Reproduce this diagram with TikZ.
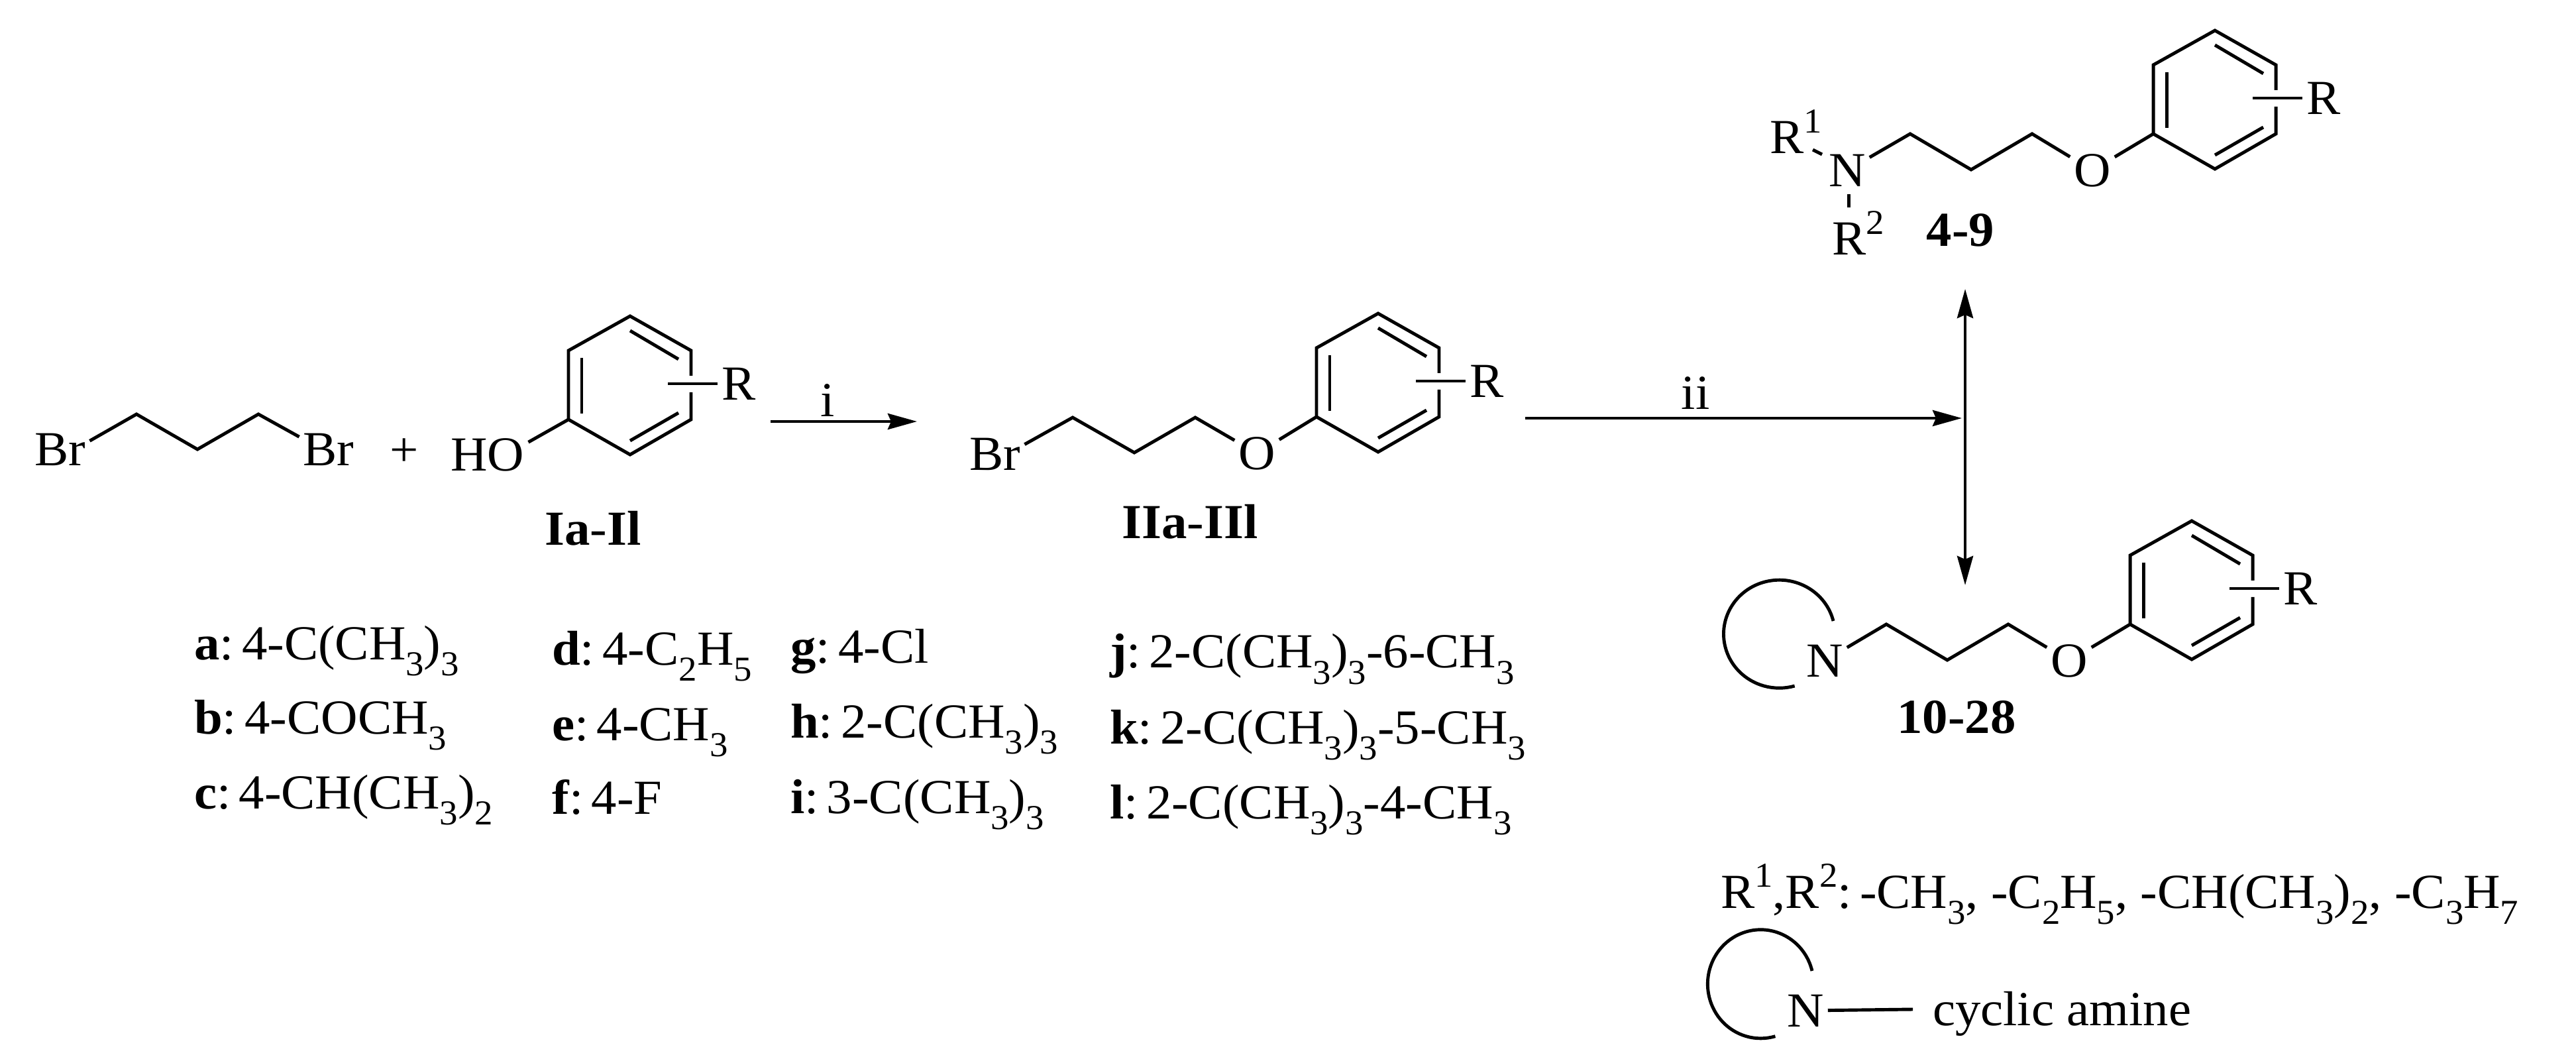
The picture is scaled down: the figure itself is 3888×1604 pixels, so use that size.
\documentclass[tikz,border=0pt]{standalone}
\usepackage{fontspec}
\setmainfont[FakeStretch=1.04]{Liberation Serif}
\usetikzlibrary{arrows.meta}
\newcommand{\lw}[1]{\raisebox{-.33em}{\fontsize{15}{15}\selectfont #1}}
\newcommand{\hi}[1]{\raisebox{.42em}{\fontsize{15}{15}\selectfont #1}}
\tikzset{
	bond/.style={line width=1.4pt},
	rxn/.style={line width=1.3pt,>={Stealth[length=.44cm,width=.24cm,inset=.05cm]}},
	atom/.style={inner sep=.06cm,outer sep=0,font=\fontsize{21}{25}\selectfont},
	sublbl/.style={anchor=base west,inner sep=0,outer sep=0,font=\fontsize{21}{25}\selectfont},
	ring/.pic={
		\coordinate (-ipso) at (-93,156);
		\node[atom] (-r) at (164,102) {R};
		\draw[bond,line join=miter] (92,90) -- (92,52) -- (0,0) -- (-93,52) -- (-93,156) -- (0,209) -- (92,156) -- (92,115);
		\draw[bond] (57,102) -- (-r.west);
		\draw[bond] (-73,63) -- (-73,147);
		\draw[bond] (0,22) -- (73,65);
		\draw[bond] (0,188) -- (73,146);
	}
}
\begin{document}
\begin{tikzpicture}[x=.01cm,y=-.01cm]
	\useasboundingbox (0,0) rectangle (3888,1604);

	% starting materials
	\begin{scope}
		\node[atom] (brA) at (91,678) {Br};
		\node[atom] (brB) at (496,678) {Br};
		\coordinate (aA) at (206,625);
		\coordinate (aB) at (298,678);
		\coordinate (aC) at (390,625);
		\draw[bond] (brA.16) -- (aA) -- (aB) -- (aC) -- (brB.157);
		\node[atom] (plus) at (610,683) {+};
		\pic (ringA) at (951,477) {ring};
		\node[atom] (hoA) at (736,686) {HO};
		\draw[bond] (hoA.17) -- (ringA-ipso);
		\node[atom] (lblA) at (895,797) {\textbf{Ia}-\textbf{Il}};
	\end{scope}

	% bromide
	\begin{scope}
		\node[atom] (brC) at (1502,685) {Br};
		\node[atom] (oB) at (1897,684) {O};
		\coordinate (bA) at (1619,630);
		\coordinate (bB) at (1712,683);
		\coordinate (bC) at (1804,630);
		\draw[bond] (brC.18) -- (bA) -- (bB) -- (bC) -- (oB);
		\pic (ringB) at (2080,473) {ring};
		\draw[bond] (oB) -- (ringB-ipso);
		\node[atom] (lblB) at (1796,787) {\textbf{IIa}-\textbf{IIl}};
	\end{scope}

	% arrows
	\begin{scope}
		\coordinate (iS) at (1163,636);
		\coordinate (iE) at (1384,636);
		\coordinate (iiS) at (2302,631);
		\coordinate (iiE) at (2961,631);
		\coordinate (upE) at (2966,436);
		\coordinate (dnE) at (2966,883);
		\draw[rxn,->] (iS) -- (iE) node[atom,pos=.39,above,inner sep=.07cm] (lblI) {i};
		\draw[rxn,->] (iiS) -- (iiE) node[atom,pos=.39,above,inner sep=.13cm] (lblII) {ii};
		\draw[rxn,<->] (upE) -- (dnE);
	\end{scope}

	% acyclic amine
	\begin{scope}
		\node[atom] (nC) at (2788,257) {N};
		\node[atom] (oC) at (3158,257) {O};
		\node[atom] (rOne) at (2711,199) {R\hi{1}};
		\node[atom] (rTwo) at (2805,352) {R\hi{2}};
		\coordinate (rOneS) at (2736,226);
		\coordinate (rOneE) at (2750,233);
		\coordinate (rTwoS) at (2790,293);
		\coordinate (rTwoE) at (2790,313);
		\coordinate (cA) at (2883,202);
		\coordinate (cB) at (2975,256);
		\coordinate (cC) at (3067,202);
		\draw[bond] (rOneS) -- (rOneE);
		\draw[bond] (rTwoS) -- (rTwoE);
		\draw[bond] (nC) -- (cA) -- (cB) -- (cC) -- (oC);
		\pic (ringC) at (3343,46) {ring};
		\draw[bond] (oC) -- (ringC-ipso);
		\node[atom] (lblC) at (2959,347) {\textbf{4-9}};
	\end{scope}

	% cyclic amine
	\begin{scope}
		\node[atom] (nD) at (2754,997) {N};
		\node[atom] (oD) at (3123,997) {O};
		\coordinate (dA) at (2847,942);
		\coordinate (dB) at (2939,996);
		\coordinate (dC) at (3031,942);
		\draw[bond] (nD) -- (dA) -- (dB) -- (dC) -- (oD);
		\pic (ringD) at (3308,786) {ring};
		\draw[bond] (oD) -- (ringD-ipso);
		\draw[bond] (2767,937) arc (-14:-286:84 and 81.5);
		\node[atom] (lblD) at (2953,1082) {\textbf{10-28}};
	\end{scope}

	% substituents
	\begin{scope}
		\node[sublbl] (subA) at (293,995) {\textbf{a}:\,4-C(CH\lw{3})\lw{3}};
		\node[sublbl] (subB) at (293,1107) {\textbf{b}:\,4-COCH\lw{3}};
		\node[sublbl] (subC) at (293,1220) {\textbf{c}:\,4-CH(CH\lw{3})\lw{2}};
		\node[sublbl] (subD) at (833,1003) {\textbf{d}:\,4-C\lw{2}H\lw{5}};
		\node[sublbl] (subE) at (833,1117) {\textbf{e}:\,4-CH\lw{3}};
		\node[sublbl] (subF) at (833,1228) {\textbf{f}:\,4-F};
		\node[sublbl] (subG) at (1193,1000) {\textbf{g}:\,4-Cl};
		\node[sublbl] (subH) at (1193,1113) {\textbf{h}:\,2-C(CH\lw{3})\lw{3}};
		\node[sublbl] (subI) at (1193,1227) {\textbf{i}:\,3-C(CH\lw{3})\lw{3}};
		\node[sublbl] (subJ) at (1675,1008) {\textbf{j}:\,2-C(CH\lw{3})\lw{3}-6-CH\lw{3}};
		\node[sublbl] (subK) at (1675,1122) {\textbf{k}:\,2-C(CH\lw{3})\lw{3}-5-CH\lw{3}};
		\node[sublbl] (subL) at (1675,1235) {\textbf{l}:\,2-C(CH\lw{3})\lw{3}-4-CH\lw{3}};
	\end{scope}

	% legend
	\begin{scope}
		\node[sublbl] (lgdR) at (2597,1370) {R\hi{1},R\hi{2}:\,-CH\lw{3}, -C\lw{2}H\lw{5}, -CH(CH\lw{3})\lw{2}, -C\lw{3}H\lw{7}};
		\node[atom] (nE) at (2725,1525) {N};
		\coordinate (nEE) at (2887,1523);
		\draw[bond] (nE) -- (nEE);
		\draw[bond] (2735,1465) arc (-14:-286:80 and 82);
		\node[sublbl] (lgdA) at (2917,1547) {cyclic amine};
	\end{scope}
\end{tikzpicture}
\end{document}
